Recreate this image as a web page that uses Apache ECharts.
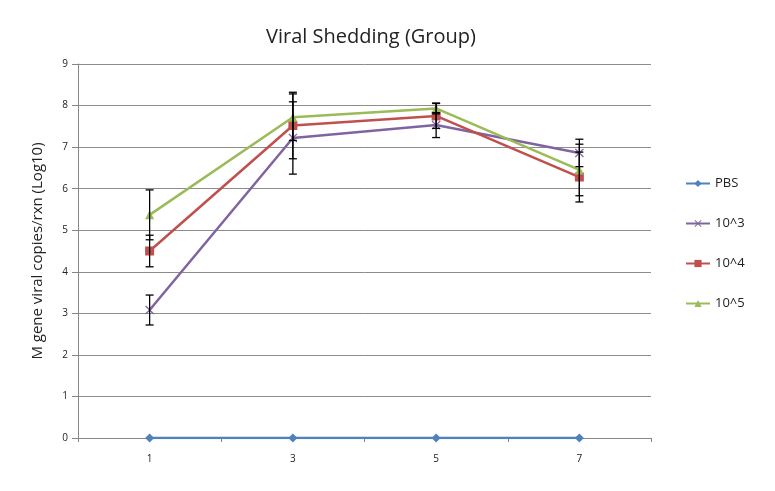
<!DOCTYPE html>
<html>
<head>
<meta charset="utf-8">
<title>Viral Shedding (Group)</title>
<script src="https://cdn.jsdelivr.net/npm/echarts@6/dist/echarts.min.js"></script>
<style>
  html, body { margin: 0; padding: 0; background: #fff; }
  #chart { width: 775px; height: 491px; }
</style>
</head>
<body>
<div id="chart"></div>
<script>
// days post infection
var days = ['1', '3', '5', '7']
var seriesNames = ['PBS', '10^3', '10^4', '10^5']

// mean log10 copies
var pbsData = [0, 0, 0, 0]
var e3Data = [3.08, 7.22, 7.53, 6.86]
var e4Data = [4.5, 7.52, 7.75, 6.28]
var e5Data = [5.37, 7.72, 7.93, 6.45]

// error bar half-widths
var pbsErr = [0, 0, 0, 0]
var e3Err = [0.36, 0.87, 0.3, 0.33]
var e4Err = [0.38, 0.8, 0.3, 0.6]
var e5Err = [0.6, 0.56, 0.13, 0.62]

var colors = ['#4F81BD', '#8064A2', '#C0504D', '#9BBB59']
var symbols = [
  'diamond',
  'path://M0,1L1,0L5,4L9,0L10,1L6,5L10,9L9,10L5,6L1,10L0,9L4,5Z',
  'rect',
  'triangle'
]
var means = [pbsData, e3Data, e4Data, e5Data]
var errs = [pbsErr, e3Err, e4Err, e5Err]

var chart = echarts.init(document.getElementById('chart'))

var lineSeries = seriesNames.map(function(name, i) {
  return {
    name: name,
    type: 'line',
    data: means[i],
    symbol: symbols[i],
    symbolSize: 9,
    showAllSymbol: true,
    color: colors[i],
    lineStyle: { color: colors[i], width: 2.5 },
    itemStyle: { color: colors[i] },
    z: 2 + i,
    animation: false
  }
})

// error bars as one custom series each
var errSeries = seriesNames.map(function(name, i) {
  var rows = means[i].map(function(v, k) {
    return [k, v - errs[i][k], v + errs[i][k]]
  })
  return {
    type: 'custom',
    name: name + ' err',
    data: rows,
    z: 10,
    silent: true,
    animation: false,
    renderItem: function(params, api) {
      var lo = api.value(1)
      var hi = api.value(2)
      if (hi === lo) return null
      var x = api.coord([api.value(0), lo])[0]
      var yLo = api.coord([api.value(0), lo])[1]
      var yHi = api.coord([api.value(0), hi])[1]
      var w = 4
      var st = { stroke: '#000', lineWidth: 1.3 }
      return {
        type: 'group',
        children: [
          { type: 'line', shape: { x1: x, y1: yHi, x2: x, y2: yLo }, style: st },
          { type: 'line', shape: { x1: x - w, y1: yHi, x2: x + w, y2: yHi }, style: st },
          { type: 'line', shape: { x1: x - w, y1: yLo, x2: x + w, y2: yLo }, style: st }
        ]
      }
    }
  }
})

chart.setOption({
  backgroundColor: '#fff',
  textStyle: { fontFamily: '"Open Sans", "Noto Sans", sans-serif' },
  title: {
    text: 'Viral Shedding (Group)',
    left: 366,
    top: 22,
    textAlign: 'center',
    textStyle: { fontSize: 20, fontWeight: 'normal', color: '#222', fontFamily: '"Open Sans", sans-serif' }
  },
  legend: {
    data: seriesNames,
    orient: 'vertical',
    left: 680,
    top: 172,
    itemGap: 27,
    itemWidth: 24,
    itemHeight: 9,
    textStyle: { fontSize: 13, color: '#222' }
  },
  grid: {
    left: 78,
    right: 124,
    top: 64,
    bottom: 53
  },
  xAxis: {
    type: 'category',
    data: days,
    boundaryGap: true,
    axisLine: { lineStyle: { color: '#868686' } },
    axisTick: { show: true, length: 4, lineStyle: { color: '#868686' } },
    axisLabel: { fontSize: 10, color: '#222', margin: 16 }
  },
  yAxis: {
    type: 'value',
    min: 0,
    max: 9,
    interval: 1,
    name: 'M gene viral copies/rxn (Log10)',
    nameLocation: 'middle',
    nameRotate: 90,
    nameGap: 33,
    nameTextStyle: { fontSize: 15, color: '#222' },
    axisLine: { show: true, lineStyle: { color: '#868686' } },
    axisTick: { show: true, length: 6, lineStyle: { color: '#868686' } },
    axisLabel: { fontSize: 10, color: '#222', margin: 10 },
    splitLine: { lineStyle: { color: '#8c8c8c', width: 1 } }
  },
  series: lineSeries.concat(errSeries)
})
</script>
</body>
</html>
